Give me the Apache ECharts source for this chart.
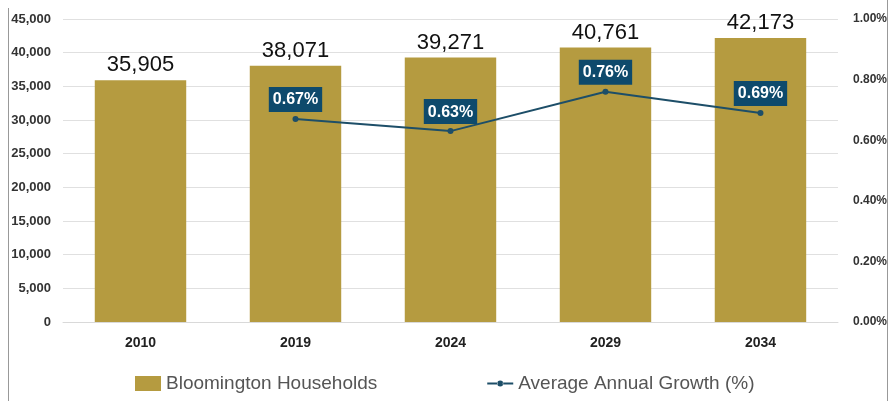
<!DOCTYPE html>
<html><head><meta charset="utf-8">
<script src="https://cdn.jsdelivr.net/npm/echarts@6/dist/echarts.min.js"></script>
<style>html,body{margin:0;padding:0;background:#fff}#c{width:890px;height:401px}</style>
</head><body><div id="c"></div>
<script>
const categories = ['2010','2019','2024','2029','2034'];
const households = [35905, 38071, 39271, 40761, 42173];
const growth = [null, 0.67, 0.63, 0.76, 0.69];

const chart = echarts.init(document.getElementById('c'));
chart.setOption({
  animation:false,
  grid:{left:63,right:52,top:19,bottom:79},
  legend:{
    bottom:3,left:130,itemGap:110,itemWidth:26,itemHeight:15,
    textStyle:{fontSize:19,color:'#555',fontFamily:'Liberation Sans, Arial'},
    data:[{name:'Bloomington Households',icon:'rect'},
      {name:'Average Annual Growth (%)',
       icon:'path://M0,0M26,15M0,6.5H10.5V8.5H0Z M15.5,6.5H26V8.5H15.5Z M10,7.5A3,3 0 1,0 16,7.5A3,3 0 1,0 10,7.5Z'}]
  },
  xAxis:{type:'category',data:categories,
    axisLine:{show:true,lineStyle:{color:'#d9d9d9'}},axisTick:{show:false},
    axisLabel:{fontWeight:'bold',fontSize:14,color:'#222',margin:14}},
  yAxis:[{type:'value',min:0,max:45000,interval:5000,
    axisLine:{show:false},axisTick:{show:false},
    splitLine:{lineStyle:{color:'#e0e0e0'}},
    axisLabel:{fontWeight:'bold',fontSize:13,color:'#333',margin:12,
      formatter:v=>v.toLocaleString('en-US')}},
    {type:'value',min:0,max:1,interval:0.2,
    axisLine:{show:false},axisTick:{show:false},splitLine:{show:false},
    axisLabel:{fontWeight:'bold',fontSize:12,color:'#333',margin:15,
      formatter:v=>v.toFixed(2)+'%'}}],
  series:[
    {name:'Bloomington Households',type:'bar',data:households,barWidth:'59%',
      itemStyle:{color:'#b59b40'},
      label:{show:true,position:'top',distance:4,fontSize:22,color:'#111',
        fontFamily:'Liberation Sans, Arial',
        formatter:p=>p.value.toLocaleString('en-US')}},
    {name:'Average Annual Growth (%)',type:'line',yAxisIndex:1,data:growth,
      symbol:'circle',symbolSize:6,connectNulls:false,
      lineStyle:{color:'#1d4e68',width:2},itemStyle:{color:'#1d4e68'},
      label:{show:true,position:'top',distance:4,backgroundColor:'#0e4a6c',
        color:'#fff',fontWeight:'bold',fontSize:16,padding:[5,4,4,4],
        fontFamily:'Liberation Sans, Arial',
        formatter:p=>p.value.toFixed(2)+'%'}}
  ],
  graphic:[
    {type:'line',shape:{x1:8.5,y1:8,x2:8.5,y2:401},style:{stroke:'#999',lineWidth:1}},
    {type:'line',shape:{x1:887.5,y1:0,x2:887.5,y2:401},style:{stroke:'#999',lineWidth:1}}
  ]
});
</script></body></html>
